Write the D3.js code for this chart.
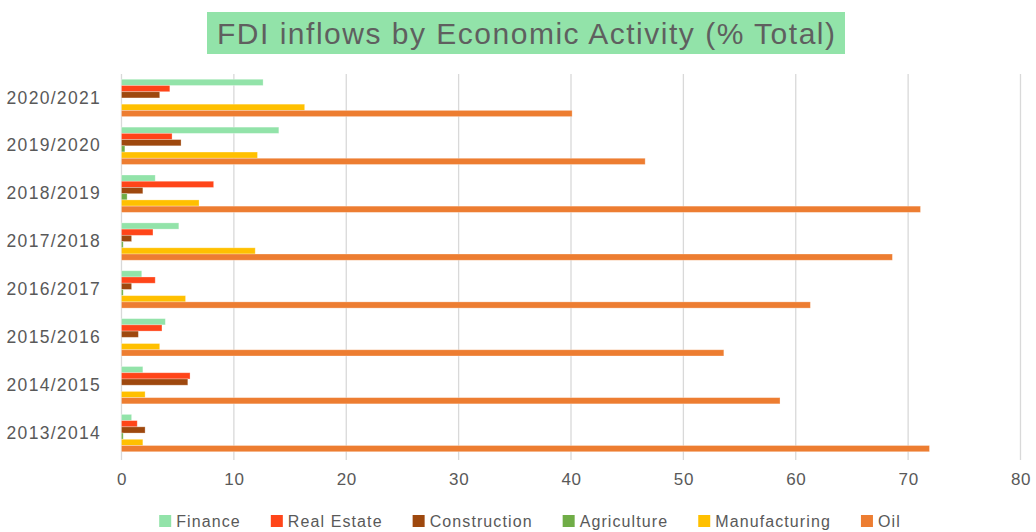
<!DOCTYPE html>
<html>
<head>
<meta charset="utf-8">
<script src="https://cdn.jsdelivr.net/npm/d3@7"></script>
<style>
  body { margin: 0; background: #fff; }
  text { font-family: "Liberation Sans", Arial, sans-serif; fill: #595959; }
</style>
</head>
<body>
<div id="chart"></div>
<script>
// Data (% of total FDI inflows)
var years = ["2020/2021", "2019/2020", "2018/2019", "2017/2018", "2016/2017", "2015/2016", "2014/2015", "2013/2014"];
var sectors = ["Finance", "Real Estate", "Construction", "Agriculture", "Manufacturing", "Oil"];
var colors = ["#92e3a9", "#ff4519", "#9e480e", "#70ad47", "#ffc000", "#ed7d31"];

var finance       = [12.6, 14.0, 3.0, 5.1, 1.8, 3.9, 1.9, 0.9];
var realEstate    = [4.3, 4.5, 8.2, 2.8, 3.0, 3.6, 6.1, 1.4];
var construction  = [3.4, 5.3, 1.9, 0.9, 0.9, 1.5, 5.9, 2.1];
var agriculture   = [0.0, 0.3, 0.5, 0.15, 0.15, 0.0, 0.0, 0.15];
var manufacturing = [16.3, 12.1, 6.9, 11.9, 5.7, 3.4, 2.1, 1.9];
var oil           = [40.1, 46.6, 71.1, 68.6, 61.3, 53.6, 58.6, 71.9];
var xTicks = [0, 10, 20, 30, 40, 50, 60, 70, 80];

var seriesValues = [finance, realEstate, construction, agriculture, manufacturing, oil];

var width = 1036, height = 532;
var svg = d3.select("#chart").append("svg")
    .attr("width", width)
    .attr("height", height);

// Title
var title = svg.append("g");
title.append("rect")
    .attr("x", 207).attr("y", 12)
    .attr("width", 638).attr("height", 42)
    .attr("fill", "#92e3a9");
title.append("text")
    .attr("x", 526).attr("y", 44)
    .attr("text-anchor", "middle")
    .attr("font-size", 30)
    .attr("textLength", 618)
    .style("fill", "#5f5f5f")
    .text("FDI inflows by Economic Activity (% Total)");

// scales
var x = d3.scaleLinear().domain([0, 80]).range([121.5, 1020.5]);
var y = d3.scaleBand().domain(years).range([74, 457])
    .paddingInner(0.22).paddingOuter(0.11);
var ySub = d3.scaleBand().domain(sectors).range([0, y.bandwidth()]);

// gridlines
svg.append("g").selectAll("line")
    .data(xTicks)
    .enter().append("line")
    .attr("x1", function (d) { return x(d); })
    .attr("x2", function (d) { return x(d); })
    .attr("y1", 74).attr("y2", 460)
    .attr("stroke", "#d9d9d9")
    .attr("stroke-width", 1.3);

// x axis labels
var xAxis = svg.append("g")
    .attr("transform", "translate(0,463)")
    .call(d3.axisBottom(x).tickValues(xTicks).tickSize(0).tickPadding(10));
xAxis.select(".domain").remove();
xAxis.selectAll("text")
    .attr("font-size", 17)
    .attr("letter-spacing", 0.6)
    .style("font-family", "Liberation Sans, Arial, sans-serif")
    .style("fill", "#595959");

// y axis labels
var yAxis = svg.append("g")
    .attr("transform", "translate(101,0)")
    .call(d3.axisLeft(y).tickSize(0).tickPadding(0));
yAxis.select(".domain").remove();
yAxis.selectAll("text")
    .attr("font-size", 17.5)
    .attr("letter-spacing", 1.3)
    .style("font-family", "Liberation Sans, Arial, sans-serif")
    .style("fill", "#595959");

// bars
var groups = svg.append("g").selectAll("g")
    .data(years)
    .enter().append("g")
    .attr("transform", function (d) { return "translate(0," + y(d) + ")"; });

groups.selectAll("rect")
    .data(function (d, i) {
        return sectors.map(function (s, j) { return { sector: s, value: seriesValues[j][i], color: colors[j] }; });
    })
    .enter().append("rect")
    .attr("x", x(0))
    .attr("y", function (d) { return ySub(d.sector); })
    .attr("width", function (d) { return x(d.value) - x(0); })
    .attr("height", ySub.bandwidth())
    .attr("fill", function (d) { return d.color; })
    .attr("stroke", "#ffffff")
    .attr("stroke-opacity", 0.35)
    .attr("stroke-width", 0.8);

// legend
var legend = svg.append("g").attr("transform", "translate(0,521)");
var items = legend.selectAll("g")
    .data(sectors)
    .enter().append("g");
items.append("rect")
    .attr("x", 0).attr("y", -6)
    .attr("width", 12).attr("height", 12)
    .attr("fill", function (d, i) { return colors[i]; });
items.append("text")
    .attr("x", 17).attr("y", 6)
    .attr("font-size", 16)
    .attr("letter-spacing", 1.1)
    .text(function (d) { return d; });

// lay the legend out from measured widths, centred
var gap = 30;
var widths = [];
items.each(function () { widths.push(this.getBBox().width); });
var total = d3.sum(widths) + gap * (widths.length - 1);
var pos = (width - total) / 2 + 12;
items.attr("transform", function (d, i) {
    var p = pos;
    pos += widths[i] + gap;
    return "translate(" + p + ",0)";
});
</script>
</body>
</html>
